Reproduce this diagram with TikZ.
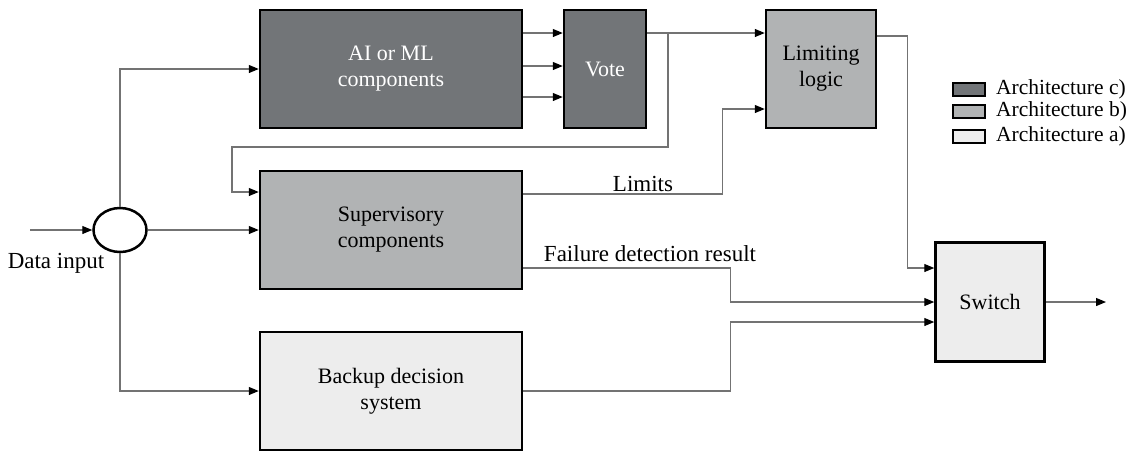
\documentclass[tikz,border=0pt]{standalone}
\usepackage{fontspec}
\setmainfont{Liberation Serif}
\usepackage{xcolor}
\usepackage{tikz}
\usetikzlibrary{arrows.meta,shapes.geometric}
\definecolor{archc}{HTML}{727578}
\definecolor{archb}{HTML}{B1B3B4}
\definecolor{archa}{HTML}{EDEDED}
\tikzset{
	blk/.style={draw=black,line width=2.5pt,align=center,inner sep=0pt,font=\fontsize{22}{26}\selectfont},
	wire/.style={draw=black!55,line width=1.2pt},
	arr/.style={wire,-{Triangle[black,length=10pt,width=8pt]}},
	lgd/.style={draw=black,line width=2pt,minimum width=32pt,minimum height=13pt,inner sep=0pt},
	txt/.style={font=\fontsize{23}{27}\selectfont,inner sep=0pt},
	lgdtxt/.style={font=\fontsize{21.5}{25}\selectfont,inner sep=0pt,anchor=west},
}

\begin{document}
\begin{tikzpicture}[x=1pt,y=-1pt]
		\useasboundingbox (0,0) rectangle (1132,453);
			\node[blk,fill=archc,text=white,minimum width=262pt,minimum height=118pt] at (391,69) (ai) {AI or ML\\components};
			\node[blk,fill=archc,text=white,minimum width=82pt,minimum height=118pt] at (605,69) (vote) {Vote};
			\node[blk,fill=archb,minimum width=110pt,minimum height=118pt] at (821,69) (limit) {Limiting\\logic};
			\node[blk,fill=archb,minimum width=262pt,minimum height=118pt] at (391,230) (sup) {Supervisory\\components};
			\node[blk,fill=archa,minimum width=262pt,minimum height=118pt] at (391,391) (backup) {Backup decision\\system};
			\node[blk,fill=archa,minimum width=109pt,minimum height=119pt] at (990,302) (switch) {Switch};
			\node[ellipse,draw=black,line width=2.5pt,minimum width=53pt,minimum height=44pt] at (120,230) (split) {};
			\coordinate (in) at (30,230);
			\coordinate (out) at (1106,302);
			\coordinate (j1) at (668,33);
			\coordinate (k1) at (232,147);
			\node[txt] at (56,263) (lin) {Data input};
			\node[txt] at (643,184) (llim) {Limits};
			\node[txt] at (650,254) (lfail) {Failure detection result};

			\draw[arr] (in) -- (split);
			\draw[arr] (split) -- (sup);
			\draw[arr] (split.north) |- (ai.west);
			\draw[arr] (split.south) |- (backup.west);
			\foreach \dy in {36,3,-28}
				\draw[arr] ([yshift=\dy]ai.east) -- ([yshift=\dy]vote.west);
			\draw[arr] ([yshift=36]vote.east) -- ([yshift=36]limit.west);
			\draw[arr] (j1) |- (k1) |- ([yshift=38]sup.west);
			\draw[arr] ([yshift=36]sup.east) -- ++(199,0) |- ([yshift=-40]limit.west);
			\draw[arr] ([yshift=-38]sup.east) -- ++(207,0) |- (switch.west);
			\draw[arr] (backup.east) -- ++(207,0) |- ([yshift=-20]switch.west);
			\draw[arr] ([yshift=33]limit.east) -- ++(30,0) |- ([yshift=34]switch.west);
			\draw[arr] (switch) -- (out);

			\node[lgd,fill=archc] at (969,89) (lc) {};
			\node[lgd,fill=archb] at (969,111) (lb) {};
			\node[lgd,fill=archa] at (969,136) (la) {};
			\node[lgdtxt] at (996,89) (tc) {Architecture c)};
			\node[lgdtxt] at (996,111) (tb) {Architecture b)};
			\node[lgdtxt] at (996,136) (ta) {Architecture a)};
\end{tikzpicture}
\end{document}
